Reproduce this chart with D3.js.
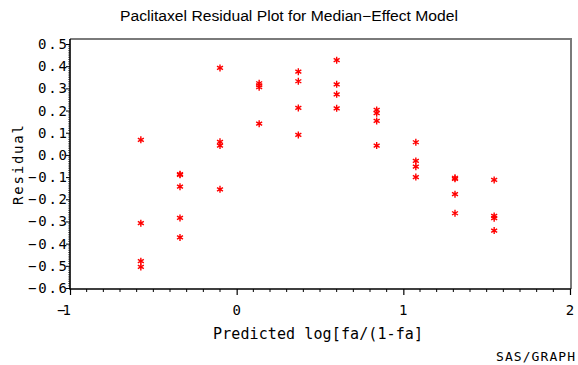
<!DOCTYPE html>
<html>
<head>
<meta charset="utf-8">
<script src="https://cdn.jsdelivr.net/npm/d3@7"></script>
<style>
  html, body { margin: 0; padding: 0; background: #fff; }
  svg { display: block; }
</style>
</head>
<body>
<svg id="chart" width="578" height="365"></svg>
<script>
// ---- Data ----
const title = "Paclitaxel Residual Plot for Median\u2212Effect Model";
const xLabel = "Predicted log[fa/(1-fa]";
const yLabel = "Residual";
const footnote = "SAS/GRAPH";

const predicted = [
  -0.575, -0.575, -0.575, -0.575,
  -0.34, -0.34, -0.34, -0.34, -0.34,
  -0.10, -0.10, -0.10, -0.10,
  0.135, 0.135, 0.135, 0.135,
  0.37, 0.37, 0.37, 0.37,
  0.60, 0.60, 0.60, 0.60,
  0.84, 0.84, 0.84, 0.84,
  1.075, 1.075, 1.075, 1.075,
  1.31, 1.31, 1.31, 1.31,
  1.545, 1.545, 1.545, 1.545
];
const residual = [
  0.068, -0.308, -0.479, -0.505,
  -0.087, -0.090, -0.143, -0.284, -0.372,
  0.392, 0.059, 0.042, -0.155,
  0.323, 0.314, 0.305, 0.141,
  0.375, 0.332, 0.212, 0.090,
  0.427, 0.318, 0.273, 0.210,
  0.203, 0.188, 0.153, 0.042,
  0.057, -0.027, -0.053, -0.100,
  -0.103, -0.108, -0.177, -0.263,
  -0.113, -0.275, -0.285, -0.341
];
const xTicks = [-1, 0, 1, 2];
const yTicks = [0.5, 0.4, 0.3, 0.2, 0.1, 0.0, -0.1, -0.2, -0.3, -0.4, -0.5, -0.6];

// ---- Layout ----
const svg = d3.select("#chart");
const frame = { left: 70, right: 571, top: 39, bottom: 289 };
const x = d3.scaleLinear().domain([-1, 2]).range([70, 570]);
const y = d3.scaleLinear().domain([-0.6, 0.5]).range([288, 44]);
const tickFont = "'DejaVu Sans Mono', 'Liberation Mono', monospace";

function fmt(v) {
  const s = Math.abs(v).toFixed(1);
  return (v < -1e-9 ? "\u2212" : "") + s;
}

// Title
svg.append("text")
  .attr("x", 289).attr("y", 21)
  .attr("text-anchor", "middle")
  .attr("font-family", "'Liberation Sans', Arial, sans-serif")
  .attr("font-size", 14)
  .attr("textLength", 338).attr("lengthAdjust", "spacingAndGlyphs")
  .text(title);

// Frame (top + right) in grey
svg.append("path")
  .attr("d", `M${frame.left},${frame.top}H${frame.right}V${frame.bottom}`)
  .attr("fill", "none").attr("stroke", "#7a7a7a").attr("stroke-width", 2);

// Y axis
const yAxis = d3.axisLeft(y).tickValues(yTicks).tickSize(4).tickFormat("");
const gy = svg.append("g").attr("transform", `translate(${frame.left},0)`).call(yAxis);
gy.select(".domain").remove();
gy.selectAll(".tick line").attr("stroke", "#000");
// minor y ticks
const yMinor = d3.range(-60, 51).map(d => d / 100).filter(v => Math.abs(Math.round(v * 10) - v * 10) > 1e-6);
svg.append("g").selectAll("line").data(yMinor).join("line")
  .attr("x1", frame.left - 2).attr("x2", frame.left)
  .attr("y1", d => y(d)).attr("y2", d => y(d))
  .attr("stroke", "#555").attr("stroke-width", 0.8);
// y tick labels
svg.append("g").selectAll("text").data(yTicks).join("text")
  .attr("x", d => 67 - (d < -1e-9 ? 39 : 29))
  .attr("y", d => y(d) + 5)
  .attr("font-family", tickFont).attr("font-size", 14)
  .attr("textLength", d => d < -1e-9 ? 39 : 29).attr("lengthAdjust", "spacing")
  .text(d => fmt(d));

// X axis
const xAxis = d3.axisBottom(x).tickValues(xTicks).tickSize(6).tickFormat("");
const gx = svg.append("g").attr("transform", `translate(0,${frame.bottom})`).call(xAxis);
gx.select(".domain").remove();
gx.selectAll(".tick line").attr("stroke", "#000").attr("stroke-width", 1.2);
const xMinor = d3.range(-10, 21).map(d => d / 10).filter(v => Math.abs(v - Math.round(v)) > 1e-6);
svg.append("g").selectAll("line").data(xMinor).join("line")
  .attr("x1", d => x(d)).attr("x2", d => x(d))
  .attr("y1", frame.bottom).attr("y2", frame.bottom + 3)
  .attr("stroke", "#000").attr("stroke-width", 1);
svg.append("g").selectAll("text").data(xTicks).join("text")
  .attr("x", d => x(d))
  .attr("y", 315)
  .attr("text-anchor", d => d < 0 ? "start" : "middle")
  .attr("font-family", tickFont).attr("font-size", 14)
  .each(function(d) {
    const t = d3.select(this);
    if (d < 0) { t.attr("x", x(d) - 13).attr("textLength", 14).attr("lengthAdjust", "spacing"); }
  })
  .text(d => d < 0 ? "\u2212" + Math.abs(d) : String(d));

// Axis lines (black)
svg.append("path")
  .attr("d", `M${frame.left},${frame.top}V${frame.bottom}H${frame.right}`)
  .attr("fill", "none").attr("stroke", "#000").attr("stroke-width", 1.6);

// Axis labels
svg.append("text")
  .attr("x", 213).attr("y", 339)
  .attr("font-family", tickFont).attr("font-size", 15)
  .attr("textLength", 210).attr("lengthAdjust", "spacing")
  .text(xLabel);

svg.append("text")
  .attr("transform", "translate(23,205) rotate(-90)")
  .attr("x", 0).attr("y", 0)
  .attr("font-family", tickFont).attr("font-size", 14)
  .attr("textLength", 80).attr("lengthAdjust", "spacing")
  .text(yLabel);

svg.append("text")
  .attr("x", 496).attr("y", 361)
  .attr("font-family", tickFont).attr("font-size", 13)
  .attr("textLength", 79).attr("lengthAdjust", "spacing")
  .text(footnote);

// Points: red asterisks
const pts = predicted.map((p, i) => ({ p, r: residual[i] }));
const star = "M0,-3.5V3.5M-3,-1.75L3,1.75M-3,1.75L3,-1.75";
svg.append("g").selectAll("path").data(pts).join("path")
  .attr("transform", d => `translate(${x(d.p)},${y(d.r)})`)
  .attr("d", star)
  .attr("fill", "none").attr("stroke", "#ff0000").attr("stroke-width", 1.4);
</script>
</body>
</html>
